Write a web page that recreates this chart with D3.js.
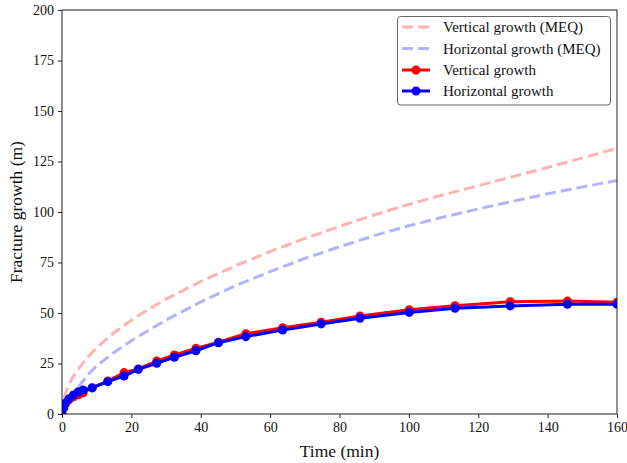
<!DOCTYPE html>
<html>
<head>
<meta charset="utf-8">
<script src="https://cdn.jsdelivr.net/npm/d3@7"></script>
<style>
  html, body { margin: 0; padding: 0; background: #fff; }
  svg text { font-family: "Liberation Serif", "DejaVu Serif", serif; fill: #111; }
</style>
</head>
<body>
<svg id="chart" width="627" height="463"></svg>
<script>
// ---- data ----
const meqTime = [0, 0.5, 1, 2, 3, 5, 7.5, 10, 15, 20, 25, 30, 40, 50, 60, 70, 80, 90, 100, 110, 120, 130, 140, 150, 160];
const meqVertical = [0, 7.2, 10.3, 14.6, 17.9, 23, 28.3, 32.8, 40.2, 46.4, 51.9, 56.9, 65.6, 73.4, 80.4, 86.9, 92.9, 98.5, 103.8, 108.6, 113, 117.5, 122, 126.8, 131.5];
const meqHorizontal = [0, 3, 4.8, 7.5, 9.8, 14, 19.5, 23.8, 30.5, 36.3, 41.5, 46.5, 55.5, 63.5, 70.5, 77, 82.8, 88.3, 93.2, 97.5, 101.5, 105.3, 109, 112.4, 115.6];

const simTime = [0, 0.5, 1, 2, 3.3, 4.7, 6.1, 8.7, 13.2, 17.9, 22, 27.3, 32.4, 38.6, 45.1, 53, 63.6, 74.7, 85.9, 100.1, 113.3, 129.2, 145.7, 160];
const simVertical = [0, 3, 5, 7, 8.5, 9.5, 10.5, 13, 16.3, 20.5, 22.3, 26.2, 29.2, 32.5, 35.5, 39.7, 42.7, 45.4, 48.5, 51.6, 53.6, 55.6, 55.9, 55.3];
const simHorizontal = [0, 3, 5.5, 7.5, 9.4, 11, 11.9, 12.9, 16, 18.8, 22.1, 25.1, 28.1, 31.3, 35.3, 38.3, 41.6, 44.6, 47.4, 50.3, 52.3, 53.5, 54.3, 54.3];

const xTicks = [0, 20, 40, 60, 80, 100, 120, 140, 160];
const yTicks = [0, 25, 50, 75, 100, 125, 150, 175, 200];

const legendLabels = ["Vertical growth (MEQ)", "Horizontal growth (MEQ)", "Vertical growth", "Horizontal growth"];

// ---- layout ----
const svg = d3.select("#chart");
const mL = 62, mR = 617, mT = 10, mB = 414;
const x = d3.scaleLinear().domain([0, 160]).range([mL, mR]);
const y = d3.scaleLinear().domain([0, 200]).range([mB, mT]);

svg.append("defs").append("clipPath").attr("id", "clip")
  .append("rect").attr("x", mL).attr("y", mT).attr("width", mR - mL).attr("height", mB - mT);

const plot = svg.append("g").attr("clip-path", "url(#clip)");

const line = d3.line().x(d => x(d[0])).y(d => y(d[1]));
const zip = (a, b) => a.map((v, i) => [v, b[i]]);

// dashed MEQ curves
plot.append("path").datum(zip(meqTime, meqVertical))
  .attr("d", line).attr("fill", "none").attr("stroke", "#ff0000").attr("stroke-opacity", 0.3)
  .attr("stroke-width", 3).attr("stroke-dasharray", "11,5");
plot.append("path").datum(zip(meqTime, meqHorizontal))
  .attr("d", line).attr("fill", "none").attr("stroke", "#0000ff").attr("stroke-opacity", 0.3)
  .attr("stroke-width", 3).attr("stroke-dasharray", "11,5");

function drawSeries(vals, color) {
  const data = zip(simTime, vals);
  plot.append("path").datum(data).attr("d", line)
    .attr("fill", "none").attr("stroke", color).attr("stroke-width", 3).attr("stroke-linejoin", "round");
  plot.append("g").selectAll("circle").data(data).enter().append("circle")
    .attr("cx", d => x(d[0])).attr("cy", d => y(d[1])).attr("r", 4.5).attr("fill", color);
}
drawSeries(simVertical, "#ff0000");
drawSeries(simHorizontal, "#0000ff");

// axes
const xAxis = svg.append("g").attr("transform", `translate(0,${mB})`)
  .call(d3.axisBottom(x).tickValues(xTicks).tickSize(4).tickPadding(4).tickFormat(d3.format("d")));
const yAxis = svg.append("g").attr("transform", `translate(${mL},0)`)
  .call(d3.axisLeft(y).tickValues(yTicks).tickSize(4).tickPadding(4).tickFormat(d3.format("d")));
[xAxis, yAxis].forEach(g => {
  g.select(".domain").remove();
  g.selectAll("line").attr("stroke", "#222").attr("stroke-width", 1);
  g.selectAll("text").attr("font-size", 14).attr("font-family", "Liberation Serif").attr("fill", "#111");
});

// frame
svg.append("rect").attr("x", mL).attr("y", mT).attr("width", mR - mL).attr("height", mB - mT)
  .attr("fill", "none").attr("stroke", "#222").attr("stroke-width", 1);

// axis labels
svg.append("text").attr("x", (mL + mR) / 2).attr("y", 457).attr("text-anchor", "middle")
  .attr("font-size", 17.5).text("Time (min)");
svg.append("text").attr("transform", `translate(22,${(mT + mB) / 2}) rotate(-90)`)
  .attr("text-anchor", "middle").attr("font-size", 17.5).text("Fracture growth (m)");

// legend
const lg = svg.append("g");
lg.append("rect").attr("x", 397.5).attr("y", 16.5).attr("width", 213).attr("height", 88.5)
  .attr("rx", 3).attr("fill", "#fff").attr("fill-opacity", 0.8).attr("stroke", "#666").attr("stroke-width", 1);
const rowsY = [27, 48.5, 70, 91];
const styles = [
  { color: "#ff0000", op: 0.3, dash: "11,5", marker: false },
  { color: "#0000ff", op: 0.3, dash: "11,5", marker: false },
  { color: "#ff0000", op: 1, dash: null, marker: true },
  { color: "#0000ff", op: 1, dash: null, marker: true }
];
legendLabels.forEach((lab, i) => {
  const s = styles[i];
  const yy = rowsY[i];
  lg.append("line").attr("x1", 402).attr("x2", 430).attr("y1", yy).attr("y2", yy)
    .attr("stroke", s.color).attr("stroke-opacity", s.op).attr("stroke-width", 3)
    .attr("stroke-dasharray", s.dash);
  if (s.marker) lg.append("circle").attr("cx", 416).attr("cy", yy).attr("r", 4.5).attr("fill", s.color);
  lg.append("text").attr("x", 443).attr("y", yy).attr("dy", "0.35em").attr("font-size", 15).text(lab);
});
</script>
</body>
</html>
